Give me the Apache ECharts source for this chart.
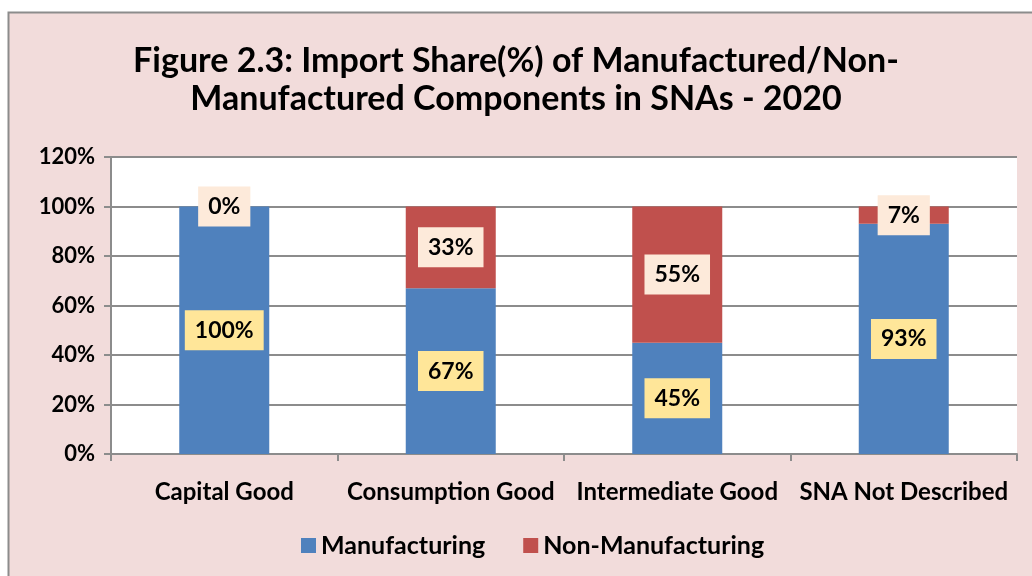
<!DOCTYPE html>
<html>
<head>
<meta charset="UTF-8">
<title>Import Share of Manufactured/Non-Manufactured Components</title>
<script src="https://cdn.jsdelivr.net/npm/echarts@6/dist/echarts.min.js"></script>
<style>
  html, body { margin: 0; padding: 0; background: #fff; }
  #chart { width: 1032px; height: 576px; }
</style>
</head>
<body>
<div id="chart"></div>
<script>
// data
var categories = ['Capital Good', 'Consumption Good', 'Intermediate Good', 'SNA Not Described'];
var manufacturing = [100, 67, 45, 93];
var nonManufacturing = [0, 33, 55, 7];
var yTicks = [0, 20, 40, 60, 80, 100, 120];

var FONT = 'Lato, "Open Sans", sans-serif';

var chart = echarts.init(document.getElementById('chart'));

function labelStyle(bg) {
  return {
    show: true,
    position: 'inside',
    formatter: '{c}%',
    color: '#000',
    fontFamily: FONT,
    fontWeight: 'bold',
    fontSize: 23,
    backgroundColor: bg,
    padding: [10, 10, 7, 10]
  };
}

var option = {
  backgroundColor: '#fff',
  graphic: [{
    type: 'rect',
    z: -10,
    silent: true,
    shape: { x: 8.5, y: 12.5, width: 1040, height: 580 },
    style: { fill: '#F2DCDB', stroke: '#8c8c8c', lineWidth: 2 }
  }],
  title: {
    text: 'Figure 2.3: Import Share(%) of Manufactured/Non-\nManufactured Components in SNAs - 2020',
    left: 'center',
    top: 37,
    textStyle: {
      fontFamily: FONT,
      fontWeight: 'bold',
      fontSize: 34,
      lineHeight: 38,
      color: '#000'
    }
  },
  legend: {
    bottom: 13,
    left: 296,
    itemWidth: 15,
    itemHeight: 15,
    itemGap: 38,
    icon: 'rect',
    textStyle: { fontFamily: FONT, fontWeight: 'bold', fontSize: 25, color: '#000' },
    data: ['Manufacturing', 'Non-Manufacturing']
  },
  grid: {
    left: 111,
    right: 15,
    top: 157,
    bottom: 122,
    show: true,
    backgroundColor: '#fff',
    borderWidth: 0
  },
  xAxis: {
    type: 'category',
    data: categories,
    axisLine: { lineStyle: { color: '#8c8c8c', width: 2 } },
    axisTick: { show: true, length: 7, lineStyle: { color: '#8c8c8c', width: 2 } },
    axisLabel: {
      interval: 0,
      margin: 26,
      color: '#000',
      fontFamily: FONT,
      fontWeight: 'bold',
      fontSize: 24
    }
  },
  yAxis: {
    type: 'value',
    min: yTicks[0],
    max: yTicks[yTicks.length - 1],
    interval: 20,
    axisLine: { show: true, lineStyle: { color: '#8c8c8c', width: 2 } },
    axisTick: { show: true, length: 7, lineStyle: { color: '#8c8c8c', width: 2 } },
    splitLine: { lineStyle: { color: '#8c8c8c', width: 2 } },
    axisLabel: {
      formatter: '{value}%',
      margin: 16,
      color: '#000',
      fontFamily: FONT,
      fontWeight: 'bold',
      fontSize: 22
    }
  },
  series: [
    {
      name: 'Manufacturing',
      type: 'bar',
      stack: 'share',
      barWidth: 90,
      data: manufacturing,
      itemStyle: { color: '#4F81BD' },
      label: labelStyle('#FFE699')
    },
    {
      name: 'Non-Manufacturing',
      type: 'bar',
      stack: 'share',
      barWidth: 90,
      data: nonManufacturing,
      itemStyle: { color: '#C0504D' },
      label: labelStyle('#FDEADA')
    }
  ]
};

chart.setOption(option);
</script>
</body>
</html>
